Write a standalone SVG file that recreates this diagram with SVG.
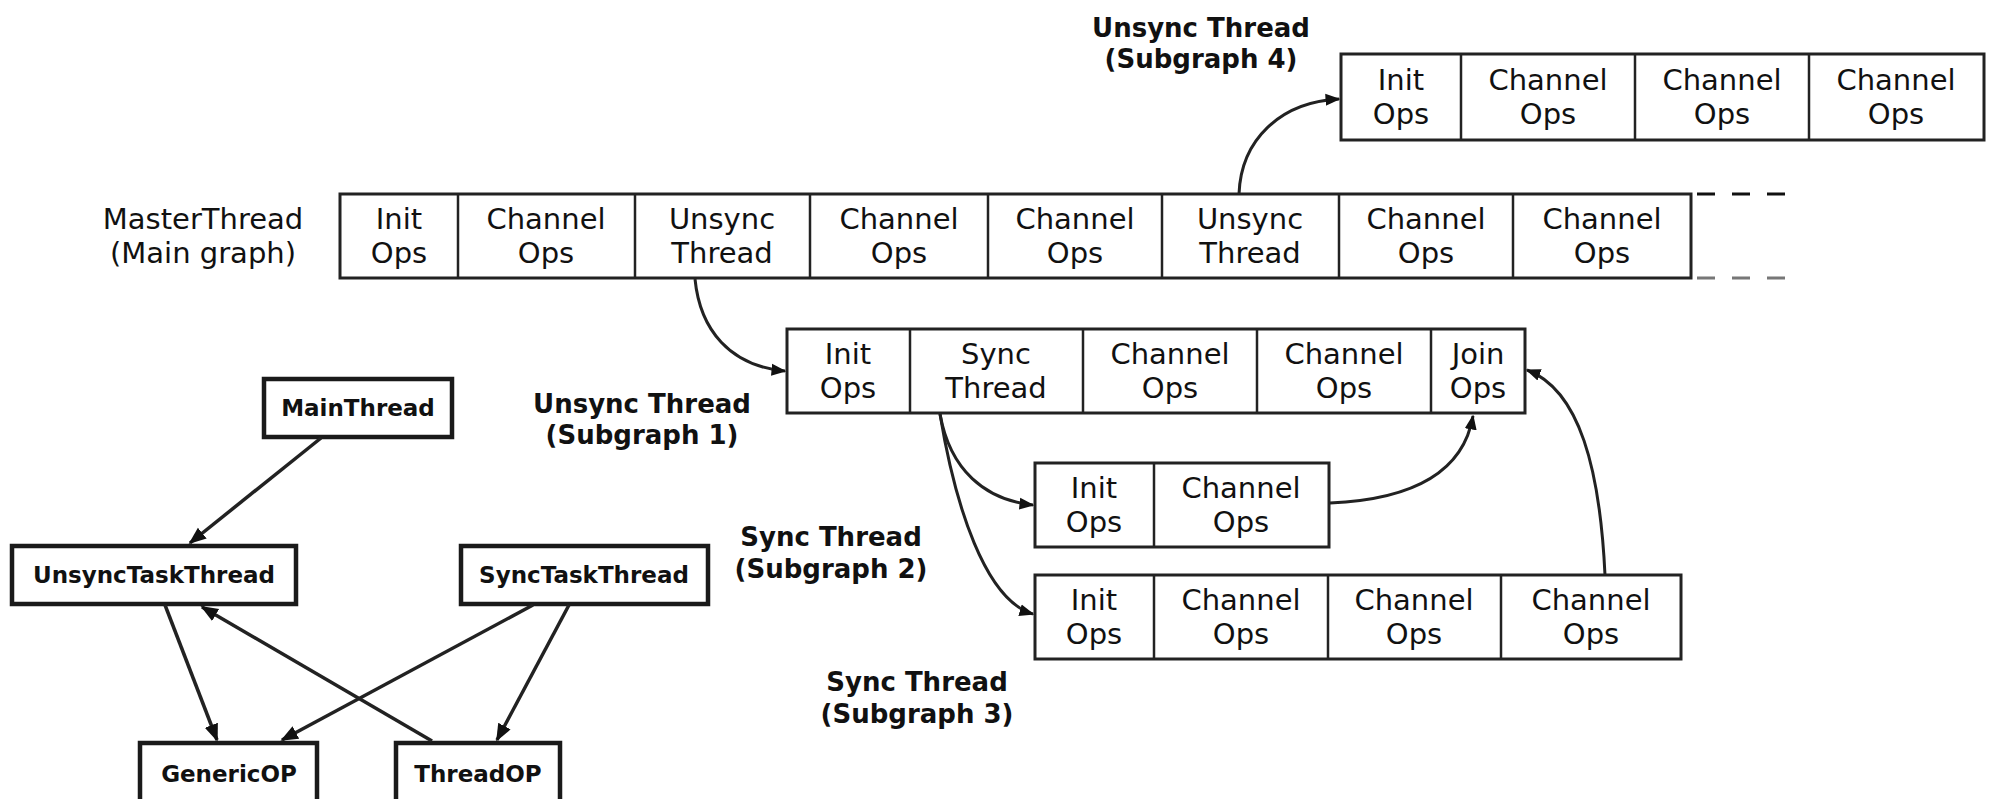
<svg xmlns="http://www.w3.org/2000/svg" width="1992" height="799" viewBox="0 0 1992 799">
<defs>
<style>
.cell{fill:#fff;stroke:#222;stroke-width:3}
.div{stroke:#222;stroke-width:2.5}
.t{font-family:"DejaVu Sans","Liberation Sans",sans-serif;font-size:29px;fill:#111;text-anchor:middle}
.lbl{font-family:"DejaVu Sans","Liberation Sans",sans-serif;font-size:26px;font-weight:bold;fill:#111;text-anchor:middle}
.cls{fill:#fff;stroke:#1a1a1a;stroke-width:4.5}
.ct{font-family:"DejaVu Sans","Liberation Sans",sans-serif;font-size:23px;font-weight:bold;fill:#111;text-anchor:middle}
.con{fill:none;stroke:#222;stroke-width:3}
.cc{fill:none;stroke:#222;stroke-width:3.5}
</style>
<marker id="ah" viewBox="0 0 10 10" refX="9" refY="5" markerWidth="5" markerHeight="5" orient="auto" markerUnits="strokeWidth"><path d="M0,1 L10,5 L0,9 z" fill="#111"/></marker>
</defs>

<!-- Main graph row -->
<g id="main-graph">
<text class="t" x="203" y="229">MasterThread</text>
<text class="t" x="203" y="263">(Main graph)</text>
<rect class="cell" x="340" y="194" width="1351" height="84"/>
<line class="div" x1="458" y1="194" x2="458" y2="278"/>
<line class="div" x1="635" y1="194" x2="635" y2="278"/>
<line class="div" x1="810" y1="194" x2="810" y2="278"/>
<line class="div" x1="988" y1="194" x2="988" y2="278"/>
<line class="div" x1="1162" y1="194" x2="1162" y2="278"/>
<line class="div" x1="1339" y1="194" x2="1339" y2="278"/>
<line class="div" x1="1513" y1="194" x2="1513" y2="278"/>
<text class="t" x="399" y="229">Init</text><text class="t" x="399" y="263">Ops</text>
<text class="t" x="546" y="229">Channel</text><text class="t" x="546" y="263">Ops</text>
<text class="t" x="722" y="229">Unsync</text><text class="t" x="722" y="263">Thread</text>
<text class="t" x="899" y="229">Channel</text><text class="t" x="899" y="263">Ops</text>
<text class="t" x="1075" y="229">Channel</text><text class="t" x="1075" y="263">Ops</text>
<text class="t" x="1250" y="229">Unsync</text><text class="t" x="1250" y="263">Thread</text>
<text class="t" x="1426" y="229">Channel</text><text class="t" x="1426" y="263">Ops</text>
<text class="t" x="1602" y="229">Channel</text><text class="t" x="1602" y="263">Ops</text>
<line x1="1697" y1="194" x2="1785" y2="194" stroke="#111" stroke-width="3" stroke-dasharray="18 17"/>
<line x1="1697" y1="278" x2="1785" y2="278" stroke="#777" stroke-width="3" stroke-dasharray="18 17"/>
</g>

<!-- Subgraph 4 -->
<g id="subgraph4">
<text class="lbl" x="1201" y="37">Unsync Thread</text>
<text class="lbl" x="1201" y="68">(Subgraph 4)</text>
<rect class="cell" x="1341" y="54" width="643" height="86"/>
<line class="div" x1="1461" y1="54" x2="1461" y2="140"/>
<line class="div" x1="1635" y1="54" x2="1635" y2="140"/>
<line class="div" x1="1809" y1="54" x2="1809" y2="140"/>
<text class="t" x="1401" y="90">Init</text><text class="t" x="1401" y="124">Ops</text>
<text class="t" x="1548" y="90">Channel</text><text class="t" x="1548" y="124">Ops</text>
<text class="t" x="1722" y="90">Channel</text><text class="t" x="1722" y="124">Ops</text>
<text class="t" x="1896" y="90">Channel</text><text class="t" x="1896" y="124">Ops</text>
</g>

<!-- Subgraph 1 -->
<g id="subgraph1">
<text class="lbl" x="642" y="413">Unsync Thread</text>
<text class="lbl" x="642" y="444">(Subgraph 1)</text>
<rect class="cell" x="787" y="329" width="738" height="84"/>
<line class="div" x1="910" y1="329" x2="910" y2="413"/>
<line class="div" x1="1083" y1="329" x2="1083" y2="413"/>
<line class="div" x1="1257" y1="329" x2="1257" y2="413"/>
<line class="div" x1="1431" y1="329" x2="1431" y2="413"/>
<text class="t" x="848" y="364">Init</text><text class="t" x="848" y="398">Ops</text>
<text class="t" x="996" y="364">Sync</text><text class="t" x="996" y="398">Thread</text>
<text class="t" x="1170" y="364">Channel</text><text class="t" x="1170" y="398">Ops</text>
<text class="t" x="1344" y="364">Channel</text><text class="t" x="1344" y="398">Ops</text>
<text class="t" x="1478" y="364">Join</text><text class="t" x="1478" y="398">Ops</text>
</g>

<!-- Subgraph 2 -->
<g id="subgraph2">
<text class="lbl" x="831" y="546">Sync Thread</text>
<text class="lbl" x="831" y="578">(Subgraph 2)</text>
<rect class="cell" x="1035" y="463" width="294" height="84"/>
<line class="div" x1="1154" y1="463" x2="1154" y2="547"/>
<text class="t" x="1094" y="498">Init</text><text class="t" x="1094" y="532">Ops</text>
<text class="t" x="1241" y="498">Channel</text><text class="t" x="1241" y="532">Ops</text>
</g>

<!-- Subgraph 3 -->
<g id="subgraph3">
<text class="lbl" x="917" y="691">Sync Thread</text>
<text class="lbl" x="917" y="723">(Subgraph 3)</text>
<rect class="cell" x="1035" y="575" width="646" height="84"/>
<line class="div" x1="1154" y1="575" x2="1154" y2="659"/>
<line class="div" x1="1328" y1="575" x2="1328" y2="659"/>
<line class="div" x1="1501" y1="575" x2="1501" y2="659"/>
<text class="t" x="1094" y="610">Init</text><text class="t" x="1094" y="644">Ops</text>
<text class="t" x="1241" y="610">Channel</text><text class="t" x="1241" y="644">Ops</text>
<text class="t" x="1414" y="610">Channel</text><text class="t" x="1414" y="644">Ops</text>
<text class="t" x="1591" y="610">Channel</text><text class="t" x="1591" y="644">Ops</text>
</g>

<!-- Class diagram nodes -->
<g id="MainThread"><rect class="cls" x="264" y="379" width="188" height="58"/><text class="ct" x="358" y="416">MainThread</text></g>
<g id="UnsyncTaskThread"><rect class="cls" x="12" y="546" width="284" height="58"/><text class="ct" x="154" y="583">UnsyncTaskThread</text></g>
<g id="SyncTaskThread"><rect class="cls" x="461" y="546" width="247" height="58"/><text class="ct" x="584" y="583">SyncTaskThread</text></g>
<g id="GenericOP"><rect class="cls" x="140" y="743" width="177" height="64"/><text class="ct" x="229" y="782">GenericOP</text></g>
<g id="ThreadOP"><rect class="cls" x="396" y="743" width="164" height="64"/><text class="ct" x="478" y="782">ThreadOP</text></g>

<!-- Connectors -->
<g id="connectors">
<path class="con" d="M1239,194 C1241,140 1280,102 1339,99" marker-end="url(#ah)"/>
<path class="con" d="M695,279 C700,330 730,366 785,371" marker-end="url(#ah)"/>
<path class="con" d="M940,414 C950,470 985,500 1033,505" marker-end="url(#ah)"/>
<path class="con" d="M940,414 C955,505 985,600 1033,614" marker-end="url(#ah)"/>
<path class="con" d="M1330,503 C1400,500 1462,480 1473,416" marker-end="url(#ah)"/>
<path class="con" d="M1605,575 C1600,470 1580,390 1527,370" marker-end="url(#ah)"/>
<line class="cc" x1="321" y1="438" x2="190" y2="543" marker-end="url(#ah)"/>
<line class="cc" x1="165" y1="605" x2="217" y2="740" marker-end="url(#ah)"/>
<line class="cc" x1="533" y1="605" x2="282" y2="740" marker-end="url(#ah)"/>
<line class="cc" x1="569" y1="605" x2="497" y2="740" marker-end="url(#ah)"/>
<line class="cc" x1="432" y1="741" x2="202" y2="607" marker-end="url(#ah)"/>
</g>
</svg>
